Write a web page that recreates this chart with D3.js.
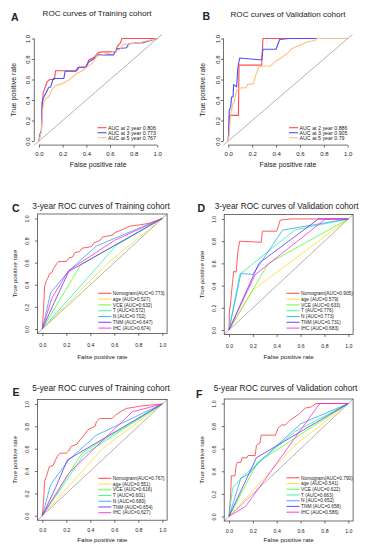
<!DOCTYPE html>
<html>
<head>
<meta charset="utf-8">
<script src="https://cdn.jsdelivr.net/npm/d3@7"></script>
<style>
  body { margin: 0; background: #fff; }
  svg text { font-family: "Liberation Sans", Arial, sans-serif; fill: #222; }
</style>
</head>
<body>
<svg id="fig" width="370" height="550"></svg>
<script>
// ---- data ----
const axisTicks = [0, 0.2, 0.4, 0.6, 0.8, 1.0];

const timeLabelsTrain = ["AUC at 2 year 0.806", "AUC at 3 year 0.773", "AUC at 5 year 0.767"];
const timeLabelsValid = ["AUC at 2 year 0.886", "AUC at 3 year 0.905", "AUC at 5 year 0.79"];

const rocTrainByYear = [
  [[0,0],[0.008,0.07],[0.02,0.09],[0.026,0.30],[0.035,0.47],[0.05,0.52],[0.07,0.58],[0.09,0.60],[0.13,0.60],[0.14,0.686],[0.32,0.686],[0.34,0.72],[0.40,0.72],[0.42,0.79],[0.47,0.82],[0.5,0.86],[0.53,0.87],[0.65,0.87],[0.66,0.92],[0.69,0.96],[0.70,1.0],[1,1]],
  [[0,0],[0.008,0.06],[0.02,0.1],[0.026,0.38],[0.04,0.43],[0.06,0.47],[0.08,0.52],[0.10,0.53],[0.12,0.61],[0.21,0.61],[0.22,0.68],[0.31,0.68],[0.33,0.72],[0.39,0.72],[0.42,0.77],[0.46,0.80],[0.5,0.84],[0.63,0.84],[0.66,0.9],[0.74,0.91],[0.76,0.95],[0.88,0.96],[1,1]],
  [[0,0],[0.01,0.05],[0.02,0.1],[0.03,0.3],[0.04,0.38],[0.06,0.42],[0.08,0.43],[0.11,0.50],[0.14,0.54],[0.2,0.56],[0.23,0.58],[0.26,0.6],[0.32,0.66],[0.36,0.68],[0.39,0.71],[0.45,0.76],[0.49,0.83],[0.6,0.86],[0.68,0.89],[0.71,0.94],[0.85,0.96],[1,1]]
];

const rocValidByYear = [
  [[0,0],[0.005,0.12],[0.01,0.25],[0.085,0.25],[0.09,0.74],[0.28,0.74],[0.29,1.0],[1,1]],
  [[0,0],[0.005,0.15],[0.008,0.30],[0.02,0.33],[0.028,0.43],[0.04,0.43],[0.045,0.55],[0.07,0.53],[0.08,0.71],[0.095,0.81],[0.28,0.79],[0.29,0.895],[0.40,0.895],[0.43,0.99],[0.51,1.0],[1,1]],
  [[0,0],[0.008,0.07],[0.02,0.27],[0.04,0.37],[0.05,0.38],[0.07,0.5],[0.11,0.52],[0.15,0.52],[0.16,0.55],[0.21,0.56],[0.23,0.64],[0.26,0.73],[0.35,0.73],[0.40,0.78],[0.44,0.81],[0.5,0.86],[0.53,0.9],[0.61,0.94],[0.67,0.97],[0.73,0.98],[0.74,1.0],[1,1]]
];

const modelNames = ["Nomogram", "age", "VCE", "T", "N", "TNM", "IHC"];
const aucTrain3y = ["0.773", "0.527", "0.632", "0.572", "0.702", "0.647", "0.674"];
const aucValid3y = ["0.905", "0.579", "0.633", "0.776", "0.773", "0.731", "0.683"];
const aucTrain5y = ["0.767", "0.551", "0.616", "0.601", "0.680", "0.654", "0.627"];
const aucValid5y = ["0.790", "0.541", "0.622", "0.663", "0.652", "0.658", "0.586"];

const rocTrain3y = [
  [[0,0],[0.01,0.18],[0.02,0.39],[0.036,0.44],[0.05,0.47],[0.06,0.50],[0.08,0.51],[0.09,0.54],[0.12,0.59],[0.135,0.61],[0.2,0.61],[0.225,0.645],[0.25,0.65],[0.27,0.69],[0.31,0.70],[0.33,0.73],[0.41,0.745],[0.43,0.78],[0.48,0.80],[0.5,0.83],[0.54,0.84],[0.59,0.85],[0.6,0.87],[0.67,0.9],[0.73,0.93],[0.8,0.94],[0.86,0.95],[0.9,0.96],[1,1]],
  [[0,0],[0.55,0.6],[1,1]],
  [[0,0],[0.32,0.58],[1,1]],
  [[0,0],[0.62,0.76],[1,1]],
  [[0,0],[0.07,0.33],[0.225,0.53],[0.45,0.75],[1,1]],
  [[0,0],[0.1,0.24],[0.22,0.52],[1,1]],
  [[0,0],[0.08,0.28],[0.22,0.53],[0.6,0.8],[1,1]]
];

const rocValid3y = [
  [[0,0],[0.005,0.2],[0.01,0.2],[0.02,0.32],[0.025,0.38],[0.03,0.43],[0.04,0.53],[0.06,0.52],[0.075,0.71],[0.09,0.80],[0.27,0.79],[0.28,0.89],[0.40,0.89],[0.43,0.99],[0.52,1.0],[1,1]],
  [[0,0],[0.2,0.36],[1,1]],
  [[0,0],[0.33,0.6],[1,1]],
  [[0,0],[0.09,0.5],[0.55,0.9],[1,1]],
  [[0,0],[0.1,0.51],[0.2,0.5],[0.45,0.9],[1,1]],
  [[0,0],[0.25,0.6],[0.75,1.0],[1,1]],
  [[0,0],[0.22,0.5],[0.81,1.0],[1,1]]
];

const rocTrain5y = [
  [[0,0],[0.01,0.13],[0.02,0.31],[0.04,0.37],[0.05,0.41],[0.06,0.44],[0.09,0.45],[0.11,0.50],[0.13,0.54],[0.15,0.56],[0.20,0.56],[0.22,0.58],[0.24,0.62],[0.29,0.64],[0.30,0.66],[0.34,0.71],[0.38,0.77],[0.44,0.80],[0.45,0.84],[0.48,0.87],[0.58,0.87],[0.61,0.90],[0.65,0.93],[0.70,0.96],[0.76,0.97],[0.81,0.98],[0.9,0.99],[1,1]],
  [[0,0],[0.5,0.6],[1,1]],
  [[0,0],[0.33,0.56],[1,1]],
  [[0,0],[0.35,0.55],[1,1]],
  [[0,0],[0.07,0.28],[0.22,0.5],[0.45,0.72],[1,1]],
  [[0,0],[0.11,0.25],[0.21,0.5],[1,1]],
  [[0,0],[0.22,0.38],[0.75,0.93],[1,1]]
];

const rocValid5y = [
  [[0,0],[0.01,0.13],[0.015,0.22],[0.02,0.36],[0.05,0.36],[0.06,0.45],[0.07,0.48],[0.1,0.48],[0.11,0.52],[0.15,0.52],[0.16,0.54],[0.22,0.54],[0.23,0.63],[0.26,0.65],[0.27,0.72],[0.39,0.72],[0.41,0.78],[0.44,0.81],[0.47,0.81],[0.51,0.85],[0.55,0.88],[0.59,0.91],[0.64,0.96],[0.69,0.97],[0.73,1.0],[1,1]],
  [[0,0],[0.55,0.63],[1,1]],
  [[0,0],[0.24,0.48],[1,1]],
  [[0,0],[0.03,0.25],[0.12,0.36],[0.55,0.75],[1,1]],
  [[0,0],[0.1,0.34],[0.17,0.38],[0.27,0.5],[0.6,0.82],[1,1]],
  [[0,0],[0.23,0.52],[1,1]],
  [[0,0],[0.14,0.09],[0.76,1.0],[1,1]]
];

// ---- colours ----
const yearColors = ["#ff4d4d", "#4d4dff", "#ffbf85"];
const modelColors = ["#FF2a2a", "#FFDB20", "#49FF20", "#20F59a", "#2a9cFF", "#5a2aFF", "#FF20DB"];

const modelLabels = aucs => modelNames.map((n, i) => i === 0 ? `${n}(AUC=${aucs[i]})` : `${n} (AUC=${aucs[i]})`);

const svg = d3.select("#fig");
const fmt = d3.format(".1f");

function drawPanel(p) {
  const g = svg.append("g");
  const x = d3.scaleLinear().domain([-0.04, 1.04]).range([p.x0, p.x1]);
  const y = d3.scaleLinear().domain([-0.04, 1.04]).range([p.y1, p.y0]);

  // reference diagonal
  g.append("line")
    .attr("x1", x(-0.04)).attr("y1", y(-0.04))
    .attr("x2", x(1.04)).attr("y2", y(1.04))
    .attr("stroke", "#a0a0a0").attr("stroke-width", 0.8);

  const line = d3.line().x(d => x(d[0])).y(d => y(d[1]));
  g.selectAll(".roc").data(p.curves).enter().append("path")
    .attr("class", "roc")
    .attr("d", line)
    .attr("fill", "none")
    .attr("stroke", (d, i) => p.colors[i])
    .attr("stroke-opacity", p.op)
    .attr("stroke-width", p.lw)
    .attr("stroke-linejoin", "round");

  if (p.box) {
    g.append("rect").attr("x", p.x0).attr("y", p.y0)
      .attr("width", p.x1 - p.x0).attr("height", p.y1 - p.y0)
      .attr("fill", "none").attr("stroke", "#333").attr("stroke-width", 0.7);
  } else {
    g.append("line").attr("x1", x(0)).attr("x2", x(1)).attr("y1", p.y1).attr("y2", p.y1)
      .attr("stroke", "#333").attr("stroke-width", 0.7);
    g.append("line").attr("y1", y(0)).attr("y2", y(1)).attr("x1", p.x0).attr("x2", p.x0)
      .attr("stroke", "#333").attr("stroke-width", 0.7);
  }

  const xa = g.append("g").attr("transform", `translate(0,${p.y1})`)
    .call(d3.axisBottom(x).tickValues(axisTicks).tickFormat(fmt).tickSize(p.tick));
  xa.select(".domain").remove();
  xa.selectAll("line").attr("stroke", "#333").attr("stroke-width", 0.7);
  xa.selectAll("text").attr("y", p.xTickOff).attr("dy", 0)
    .style("font-size", p.tickFs + "px").attr("fill", "#222");

  const ya = g.append("g").attr("transform", `translate(${p.x0},0)`)
    .call(d3.axisLeft(y).tickValues(axisTicks).tickFormat(fmt).tickSize(p.tick));
  ya.select(".domain").remove();
  ya.selectAll("line").attr("stroke", "#333").attr("stroke-width", 0.7);
  ya.selectAll("text").attr("transform", "rotate(-90)")
    .attr("x", 0).attr("y", -p.yTickOff).attr("dy", 0)
    .style("text-anchor", "middle").style("font-size", p.tickFs + "px").attr("fill", "#222");

  g.append("text").attr("x", x(0.5)).attr("y", p.xLabY)
    .attr("text-anchor", "middle").style("font-size", p.labFs + "px")
    .text("False positive rate");
  g.append("text")
    .attr("transform", `translate(${p.yLabX},${y(0.5)}) rotate(-90)`)
    .attr("text-anchor", "middle").style("font-size", p.labFs + "px")
    .text("True positive rate");

  g.append("text").attr("x", p.titleX).attr("y", p.titleY)
    .attr("text-anchor", "middle").style("font-size", p.titleFs + "px")
    .text(p.title);
  g.append("text").attr("x", p.letterX).attr("y", p.letterY)
    .style("font-size", "10.5px").style("font-weight", "bold").attr("fill", "#000")
    .text(p.letter);

  const lg = g.append("g");
  p.labels.forEach((lab, i) => {
    const ly = p.legY + i * p.legDy;
    lg.append("line").attr("x1", p.legX).attr("x2", p.legX + p.legLen)
      .attr("y1", ly).attr("y2", ly)
      .attr("stroke", p.colors[i]).attr("stroke-opacity", p.op).attr("stroke-width", 1.1);
    lg.append("text").attr("x", p.legX + p.legLen + 1.5).attr("y", ly + p.legFs * 0.36)
      .style("font-size", p.legFs + "px").attr("fill", "#333").text(lab);
  });
}

const topStyle = { box: false, tick: 2.5, tickFs: 6, labFs: 7, titleFs: 8.1, lw: 1.1, op: 1,
  xTickOff: 11, yTickOff: 4, legFs: 5.3, legDy: 5, legLen: 9 };
const lowStyle = { box: true, tick: 2.5, tickFs: 5.2, labFs: 6.2, titleFs: 8.3, lw: 0.95, op: 0.8,
  xTickOff: 13.5, yTickOff: 8.5, legFs: 4.8, legDy: 5.8, legLen: 13 };

drawPanel(Object.assign({}, topStyle, {
  letter: "A", letterX: 11, letterY: 21, title: "ROC curves of Training cohort", titleX: 97, titleY: 15.5,
  x0: 34.3, x1: 162, y0: 34.4, y1: 145.1, xLabY: 166.5, yLabX: 15.5,
  curves: rocTrainByYear, colors: yearColors, labels: timeLabelsTrain, legX: 97.5, legY: 127.7
}));
drawPanel(Object.assign({}, topStyle, {
  letter: "B", letterX: 202.5, letterY: 20, title: "ROC curves of Validation cohort", titleX: 288, titleY: 16.5,
  x0: 223.5, x1: 352.5, y0: 34.4, y1: 145.1, xLabY: 166.5, yLabX: 205,
  curves: rocValidByYear, colors: yearColors, labels: timeLabelsValid, legX: 289, legY: 127.7
}));
drawPanel(Object.assign({}, lowStyle, {
  letter: "C", letterX: 12, letterY: 212, title: "3-year ROC curves of Training cohort", titleX: 101, titleY: 208.5,
  x0: 37.5, x1: 167.1, y0: 214, y1: 333.4, xLabY: 358.8, yLabX: 17,
  curves: rocTrain3y, colors: modelColors, labels: modelLabels(aucTrain3y), legX: 98.3, legY: 293.3
}));
drawPanel(Object.assign({}, lowStyle, {
  letter: "D", letterX: 197.5, letterY: 212, title: "3-year ROC curves of Validation cohort", titleX: 286.7, titleY: 208.5,
  x0: 224.2, x1: 353.1, y0: 214.5, y1: 334.5, xLabY: 358.8, yLabX: 204,
  curves: rocValid3y, colors: modelColors, labels: modelLabels(aucValid3y), legX: 286.5, legY: 293.3
}));
drawPanel(Object.assign({}, lowStyle, {
  letter: "E", letterX: 12.5, letterY: 396, title: "5-year ROC curves of Training cohort", titleX: 101, titleY: 391,
  x0: 37.5, x1: 167.1, y0: 399.5, y1: 520.2, xTickOff: 11.5, xLabY: 541.5, yLabX: 17,
  curves: rocTrain5y, colors: modelColors, labels: modelLabels(aucTrain5y), legX: 98.3, legY: 478.3, legDy: 5.73
}));
drawPanel(Object.assign({}, lowStyle, {
  letter: "F", letterX: 196, letterY: 397.5, title: "5-year ROC curves of Validation cohort", titleX: 285.5, titleY: 391,
  x0: 224.2, x1: 353.1, y0: 399, y1: 521, xTickOff: 11.5, xLabY: 541.5, yLabX: 204,
  curves: rocValid5y, colors: modelColors, labels: modelLabels(aucValid5y), legX: 286.5, legY: 477.8, legDy: 5.73
}));
</script>
</body>
</html>
